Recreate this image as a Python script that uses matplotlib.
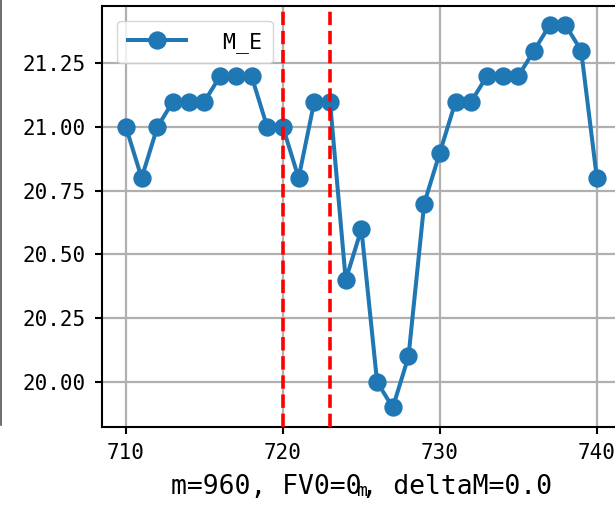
import matplotlib
matplotlib.use("Agg")
import matplotlib.pyplot as plt
from matplotlib.lines import Line2D

x_vals = list(range(710, 741))
m_e = [21.0, 20.8, 21.0, 21.1, 21.1, 21.1, 21.2, 21.2, 21.2, 21.0,
       21.0, 20.8, 21.1, 21.1, 20.4, 20.6, 20.0, 19.9, 20.1, 20.7,
       20.9, 21.1, 21.1, 21.2, 21.2, 21.2, 21.3, 21.4, 21.4, 21.3, 20.8]
vlines = [720, 723]
series_label = " M_E"
xlabel = "m=960, FV0=0, deltaM=0.0"
yticks = [20.00, 20.25, 20.50, 20.75, 21.00, 21.25]
xticks = [710, 720, 730, 740]

plt.rcParams['font.family'] = ['DejaVu Sans Mono']

W, H = 615, 508
fig = plt.figure(figsize=(W / 100, H / 100), dpi=100)
ax = fig.add_axes([102.4 / W, (H - 426.6) / H, 518 / W, (426.6 - 5.9) / H])

ax.plot(x_vals, m_e, '-o', color='#1f77b4', lw=2.9, markersize=12.2, label=series_label, zorder=3)
for v in vlines:
    ax.axvline(v, color='red', ls='--', lw=2.6, zorder=4)

ax.set_xlim(708.5, 741.5)
ax.set_ylim(19.825, 21.475)
ax.set_xticks(xticks)
ax.set_yticks(yticks)
ax.set_yticklabels([f"{t:.2f}" for t in yticks])
ax.grid(True, color='#b0b0b0', lw=1.6)
ax.set_axisbelow(True)
for s in ax.spines.values():
    s.set_linewidth(1.5)
ax.tick_params(labelsize=15, length=5, width=1.5)
ax.tick_params(axis='y', pad=7)
ax.tick_params(axis='x', pad=7)

ax.set_xlabel(xlabel, fontsize=19)
ax.xaxis.set_label_coords(0.5, -0.112)

leg = ax.legend(loc='upper left', fontsize=15.5, handlelength=2.7, handletextpad=1.1,
                borderaxespad=0.7, borderpad=0.5, framealpha=0.8, edgecolor='#cccccc')

fig.text(362 / W, 1 - 491 / H, "m", fontsize=13, ha='center', va='center')
fig.add_artist(Line2D([1 / W, 1 / W], [1 - 425 / H, 1.0], color='#555555', lw=1.2))

fig.savefig("out.png", dpi=100)
